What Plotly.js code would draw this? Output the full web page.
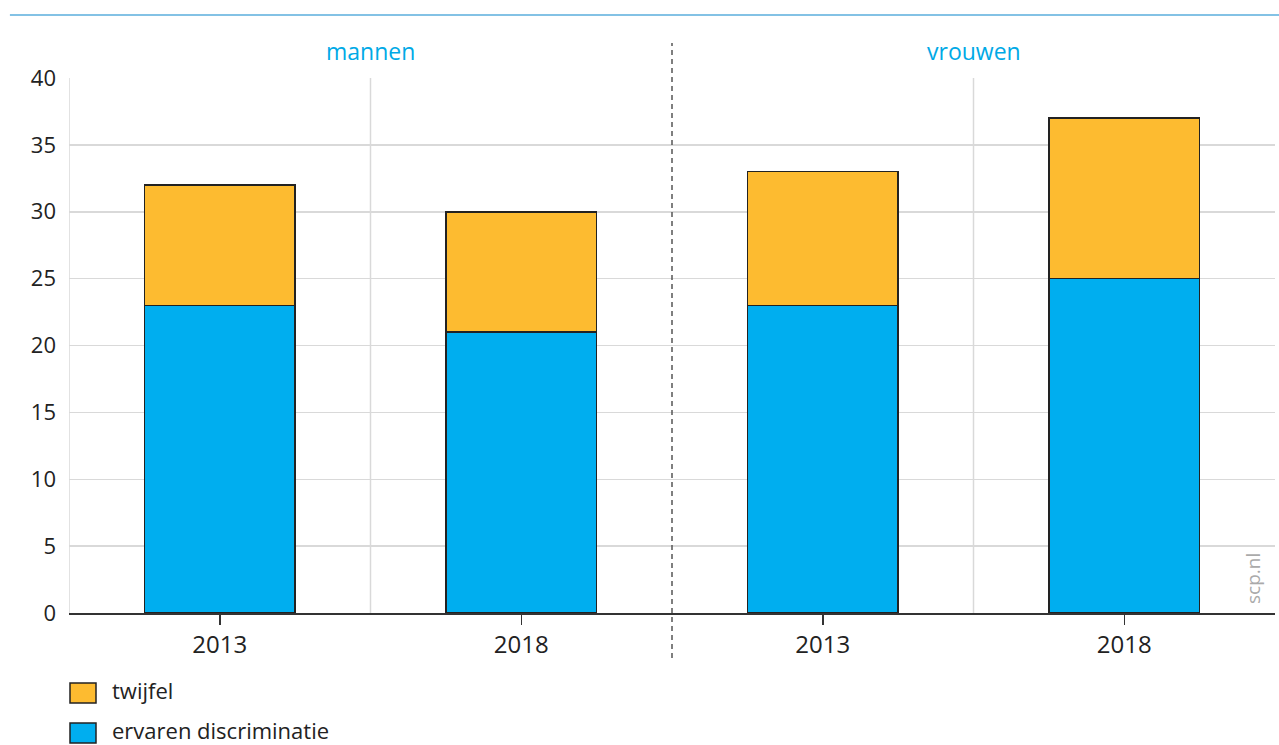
<!DOCTYPE html>
<html>
<head>
<meta charset="utf-8">
<script src="https://cdn.plot.ly/plotly-3.0.1.min.js"></script>
<style>html,body{margin:0;padding:0;background:#fff;}#chart{width:1279px;height:745px;}</style>
</head>
<body>
<div id="chart"></div>
<script>
const yearLabels = ["2013", "2018", "2013", "2018"];
const groups = ["mannen", "vrouwen"];
const ervaren = [23, 21, 23, 25];
const twijfel = [9, 9, 10, 12];
const seriesNames = ["twijfel", "ervaren discriminatie"];
const seriesColors = ["#FDBB30", "#00AEEF"];
const yTicks = [0, 5, 10, 15, 20, 25, 30, 35, 40];

const xPos = yearLabels.map((_, i) => i);
const font = "Open Sans, DejaVu Sans, sans-serif";
const lineCol = "#222222";

const traces = [
  {type: "bar", x: xPos, y: ervaren, name: seriesNames[1], width: 0.5,
   marker: {color: seriesColors[1], line: {color: lineCol, width: 1.5}}, showlegend: false, hoverinfo: "y"},
  {type: "bar", x: xPos, y: twijfel, name: seriesNames[0], width: 0.5,
   marker: {color: seriesColors[0], line: {color: lineCol, width: 1.5}}, showlegend: false, hoverinfo: "y"}
];

const plotH = 535;
const shapes = [];
const annotations = [];
// top rule
shapes.push({type: "line", xref: "paper", yref: "paper", x0: -0.049, x1: 1.01, y0: 1 + 63 / plotH, y1: 1 + 63 / plotH,
  line: {color: "#5AAEDC", width: 1.5}});
// vertical category gridlines
[-0.5, 0.5, 2.5].forEach(v => shapes.push({type: "line", xref: "x", yref: "paper", x0: v, x1: v, y0: 0, y1: 1,
  line: {color: "#D9D9D9", width: 1.5}, layer: "below"}));
// group separator
shapes.push({type: "line", xref: "x", yref: "paper", x0: 1.5, x1: 1.5, y0: -45 / plotH, y1: 1 + 35 / plotH,
  line: {color: "#555555", width: 1.5, dash: "5px,4px"}});
// group labels
groups.forEach((g, i) => annotations.push({text: g, xref: "x", yref: "paper", x: i * 2 + 0.5, y: 1 + 27 / plotH,
  showarrow: false, yanchor: "middle", font: {family: font, size: 23, color: "#00A9E6"}}));
// custom legend
seriesNames.forEach((n, i) => {
  const top = -(70 + i * 40) / plotH;
  shapes.push({type: "rect", xref: "paper", yref: "paper", x0: 1 / 1206, x1: 27 / 1206, y0: top, y1: top - 20 / plotH,
    fillcolor: seriesColors[i], line: {color: lineCol, width: 1.5}});
  annotations.push({text: n, xref: "paper", yref: "paper", x: 41 / 1206, y: top - 7 / plotH, xanchor: "left",
    yanchor: "middle", showarrow: false, font: {family: font, size: 22, color: "#222"}});
});
// source
annotations.push({text: "scp.nl", xref: "paper", yref: "paper", x: 1 - 22 / 1206, y: 34 / plotH, textangle: -90,
  showarrow: false, xanchor: "center", yanchor: "middle", font: {family: font, size: 19, color: "#AAAAAA"}});

const layout = {
  width: 1279, height: 745,
  margin: {l: 69, r: 4, t: 78, b: 132},
  paper_bgcolor: "#fff", plot_bgcolor: "#fff",
  barmode: "stack",
  showlegend: false,
  xaxis: {range: [-0.5, 3.5], tickvals: xPos, ticktext: yearLabels, showgrid: false, zeroline: false,
    showline: true, linecolor: "#333", linewidth: 1.5, ticks: "outside", ticklen: 10, tickwidth: 1.5, tickcolor: "#333",
    tickfont: {family: font, size: 24, color: "#222"}, fixedrange: true},
  yaxis: {range: [0, 40], tickvals: yTicks, ticktext: yTicks.map(String), showgrid: true, gridcolor: "#D9D9D9", gridwidth: 1.5,
    zeroline: false, showline: false, ticks: "", ticklabelstandoff: 12,
    tickfont: {family: font, size: 22, color: "#222"}, fixedrange: true},
  shapes: shapes,
  annotations: annotations
};
Plotly.newPlot("chart", traces, layout, {displayModeBar: false, staticPlot: true});
</script>
</body>
</html>
